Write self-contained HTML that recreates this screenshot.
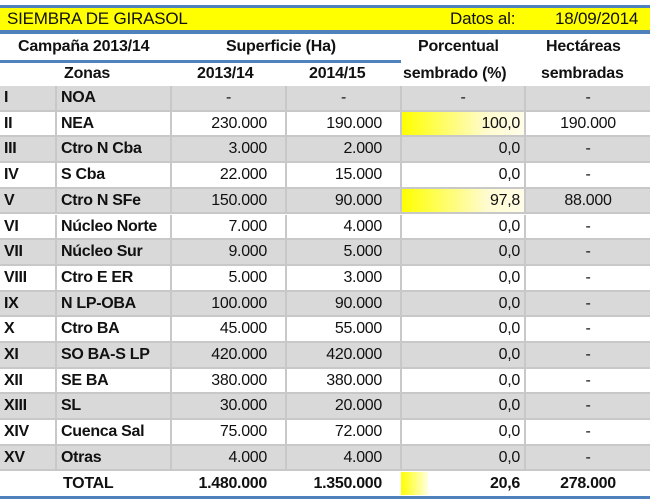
<!DOCTYPE html><html><head><meta charset="utf-8"><style>
body{margin:0;width:650px;height:502px;background:#fff;position:relative;overflow:hidden;font-family:"Liberation Sans",sans-serif;color:#111}
.a{position:absolute}
.t{font-size:16px;line-height:22px;letter-spacing:-0.2px}
.b{font-weight:bold}
.r{position:absolute;left:0;width:650px;height:25.7px}
.c{position:absolute;top:0;height:23.7px;line-height:24px;font-size:16px;box-sizing:border-box;padding:0 4px;white-space:nowrap;letter-spacing:-0.3px}
</style></head><body>
<div class="a" style="left:0;top:5px;width:650px;height:3px;background:#4f81bd"></div>
<div class="a" style="left:0;top:8px;width:650px;height:22px;background:#ffff00"></div>
<div class="a t" style="left:7px;top:8px;font-size:17px">SIEMBRA DE GIRASOL</div>
<div class="a t" style="left:450px;top:8px;font-size:17px">Datos al:</div>
<div class="a t" style="left:555px;top:8px;font-size:17px">18/09/2014</div>
<div class="a" style="left:0;top:30px;width:650px;height:4px;background:#4f81bd"></div>
<div class="a t b" style="left:18px;top:36px">Campaña 2013/14</div>
<div class="a t b" style="left:226px;top:36px">Superficie (Ha)</div>
<div class="a t b" style="left:418px;top:36px">Porcentual</div>
<div class="a t b" style="left:546px;top:36px">Hectáreas</div>
<div class="a" style="left:0;top:60px;width:401px;height:3px;background:#4f81bd"></div>
<div class="a t b" style="left:64px;top:63px">Zonas</div>
<div class="a t b" style="left:197px;top:63px">2013/14</div>
<div class="a t b" style="left:309px;top:63px">2014/15</div>
<div class="a t b" style="left:403px;top:63px">sembrado (%)</div>
<div class="a t b" style="left:541px;top:63px">sembradas</div>
<div id="rows"></div>
<div class="a" style="left:0;top:496px;width:650px;height:3px;background:#4f81bd"></div>
<script>
var d=[["I","NOA","-","-","-","-"],["II","NEA","230.000","190.000","100,0","190.000"],["III","Ctro N Cba","3.000","2.000","0,0","-"],["IV","S Cba","22.000","15.000","0,0","-"],["V","Ctro N SFe","150.000","90.000","97,8","88.000"],["VI","Núcleo Norte","7.000","4.000","0,0","-"],["VII","Núcleo Sur","9.000","5.000","0,0","-"],["VIII","Ctro E ER","5.000","3.000","0,0","-"],["IX","N LP-OBA","100.000","90.000","0,0","-"],["X","Ctro BA","45.000","55.000","0,0","-"],["XI","SO BA-S LP","420.000","420.000","0,0","-"],["XII","SE BA","380.000","380.000","0,0","-"],["XIII","SL","30.000","20.000","0,0","-"],["XIV","Cuenca Sal","75.000","72.000","0,0","-"],["XV","Otras","4.000","4.000","0,0","-"]];
var cols=[[0,55],[57,113],[172,113],[287,113],[402,122],[526,124]];
var h="";
d.forEach(function(r,i){
 var top=86+i*25.7,bg=i%2==0?"#d9d9d9":"#fff";
 h+='<div class="r" style="top:'+top+'px;background:#c8c8c8">';
 r.forEach(function(v,j){
  var s='left:'+cols[j][0]+'px;width:'+cols[j][1]+'px;background:'+bg+';';
  if(j<2)s+='font-weight:bold;text-align:left;';
  else if(j==5)s+='text-align:center;';
  else s+='text-align:right;padding-right:'+(j==4?4:18)+'px;';
  if(j>=2&&j<4&&v=="-")s+='text-align:center;padding-right:4px;';
  if(j==4&&v=="-")s+='text-align:center;';
  if(j==4&&(i==1||i==4))s+='background:linear-gradient(90deg,#ffff00,#fffbd0 70%,#fffde8);';
  h+='<div class="c" style="'+s+'">'+v+'</div>';
 });
 h+='</div>';
});
h+='<div class="r" style="top:472px;height:23px;background:#fff">';
h+='<div class="a" style="left:401px;top:0;width:27px;height:23px;background:linear-gradient(90deg,#ffff00,#ffffe0)"></div>';
h+='<div class="c b" style="left:57px;width:113px;padding-left:6px">TOTAL</div>';
h+='<div class="c b" style="left:172px;width:113px;text-align:right;padding-right:18px">1.480.000</div>';
h+='<div class="c b" style="left:287px;width:113px;text-align:right;padding-right:18px">1.350.000</div>';
h+='<div class="c b" style="left:402px;width:122px;text-align:right;padding-right:4px">20,6</div>';
h+='<div class="c b" style="left:526px;width:124px;text-align:center">278.000</div>';
h+='</div>';
document.getElementById("rows").innerHTML=h;
</script>
</body></html>
